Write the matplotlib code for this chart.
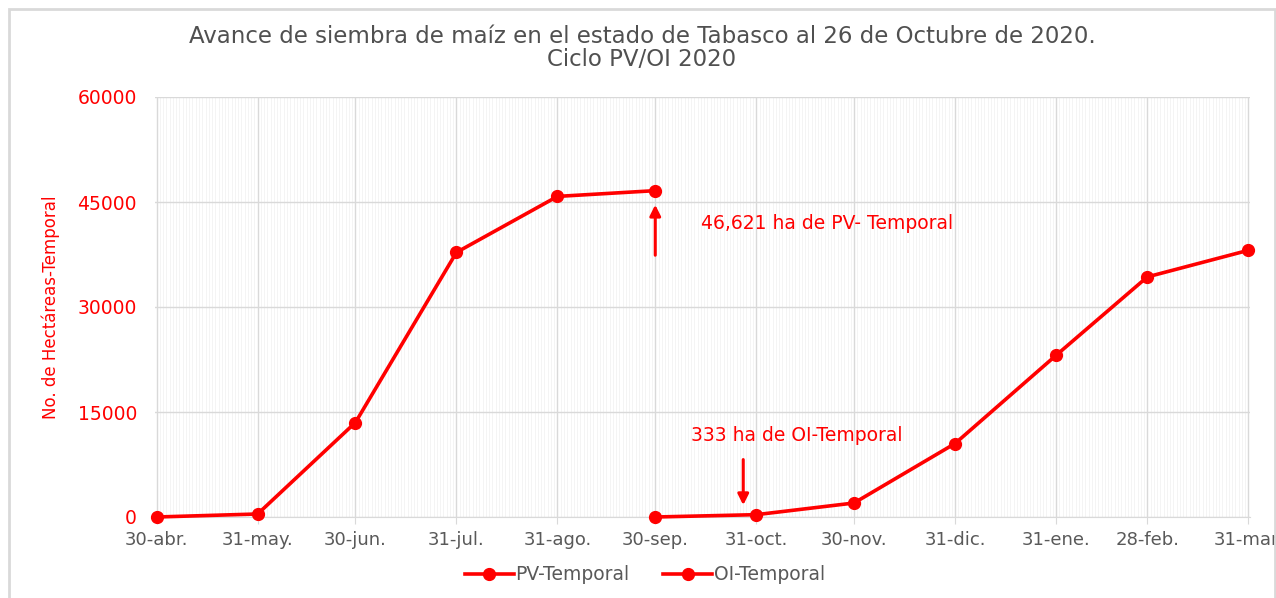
import matplotlib
matplotlib.use("Agg")
import matplotlib.pyplot as plt
import matplotlib.dates as mdates
from matplotlib.patches import Rectangle
import datetime as dt

# ---- data ----
pv_dates = ["2020-04-30", "2020-05-31", "2020-06-30", "2020-07-31", "2020-08-31", "2020-09-30"]
pv_values = [0, 430, 13500, 37800, 45800, 46621]
oi_dates = ["2020-09-30", "2020-10-31", "2020-11-30", "2020-12-31", "2021-01-31", "2021-02-28", "2021-03-31"]
oi_values = [0, 333, 2000, 10500, 23100, 34300, 38100]
tick_dates = ["2020-04-30", "2020-05-31", "2020-06-30", "2020-07-31", "2020-08-31", "2020-09-30",
              "2020-10-31", "2020-11-30", "2020-12-31", "2021-01-31", "2021-02-28", "2021-03-31"]
tick_labels = ["30-abr.", "31-may.", "30-jun.", "31-jul.", "31-ago.", "30-sep.",
               "31-oct.", "30-nov.", "31-dic.", "31-ene.", "28-feb.", "31-mar."]
y_ticks = [0, 15000, 30000, 45000, 60000]
title = "Avance de siembra de maíz en el estado de Tabasco al 26 de Octubre de 2020.\nCiclo PV/OI 2020"
ylabel = "No. de Hectáreas-Temporal"
ann_pv = "46,621 ha de PV- Temporal"
ann_oi = "333 ha de OI-Temporal"

def d(s):
    return dt.datetime.strptime(s, "%Y-%m-%d")

RED = "#ff0000"
GRAY = "#595959"
plt.rcParams['font.family'] = ['DejaVu Sans']

fig = plt.figure(figsize=(12.76, 5.98), dpi=100)
ax = fig.add_axes([155/1276, 81/598, 1095/1276, 420/598])

ax.plot([d(s) for s in pv_dates], pv_values, color=RED, lw=2.6, marker='o', ms=8.5,
        label="PV-Temporal", zorder=5, clip_on=False)
ax.plot([d(s) for s in oi_dates], oi_values, color=RED, lw=2.6, marker='o', ms=8.5,
        label="OI-Temporal", zorder=5, clip_on=False)

x0 = mdates.date2num(d(tick_dates[0])) - 0.5
x1 = mdates.date2num(d(tick_dates[-1])) + 0.5
ax.set_xlim(x0, x1)
ax.set_ylim(0, 60000)

ax.set_xticks([mdates.date2num(d(s)) for s in tick_dates])
ax.set_xticklabels(tick_labels, color=GRAY, fontsize=13)
ax.xaxis.set_minor_locator(mdates.DayLocator())
ax.set_yticks(y_ticks)
ax.set_yticklabels([str(v) for v in y_ticks], color=RED, fontsize=13.5)

ax.grid(which='major', axis='both', color='#d9d9d9', lw=1)
ax.grid(which='minor', axis='x', color='#f3f3f3', lw=0.6)
ax.tick_params(axis='x', which='major', length=5, color='#d9d9d9', pad=5)
ax.tick_params(axis='x', which='minor', length=0)
ax.tick_params(axis='y', length=0, pad=13)
for s in ['top', 'right', 'left']:
    ax.spines[s].set_visible(False)
ax.spines['bottom'].set_color('#d9d9d9')
ax.set_axisbelow(True)

ax.set_ylabel(ylabel, color=RED, fontsize=12)
ax.yaxis.set_label_coords(-95/1095, 0.5)

fig.text(642/1276, 1 - 48/598, title, ha='center', va='center', fontsize=16.5,
         color='#505050', linespacing=1.05)

# annotations
xpv = mdates.date2num(d(pv_dates[-1]))
ax.annotate("", xy=(xpv, 45000), xytext=(xpv, 37000),
            arrowprops=dict(arrowstyle='-|>', color=RED, lw=2.2, mutation_scale=16))
ax.text(mdates.date2num(d("2020-10-14")), 41900, ann_pv, color=RED, fontsize=13.5,
        va='center', ha='left')
xoi = mdates.date2num(d("2020-10-27"))
ax.annotate("", xy=(xoi, 1300), xytext=(xoi, 8600),
            arrowprops=dict(arrowstyle='-|>', color=RED, lw=2.2, mutation_scale=16))
ax.text(mdates.date2num(d("2020-10-11")), 11700, ann_oi, color=RED, fontsize=13.5,
        va='center', ha='left')

leg = fig.legend(loc='center', bbox_to_anchor=(645/1276, 1 - 575/598), ncol=2, frameon=False,
                 fontsize=13.5, handlelength=2.6, columnspacing=1.8, handletextpad=0.1)
for t in leg.get_texts():
    t.set_color(GRAY)

fig.patches.append(Rectangle((9/1276, -0.1), (1275-9)/1276, 1.1 - 9/598,
                             transform=fig.transFigure, fill=False, edgecolor='#d9d9d9', lw=2))

fig.savefig("out.png", dpi=100)
